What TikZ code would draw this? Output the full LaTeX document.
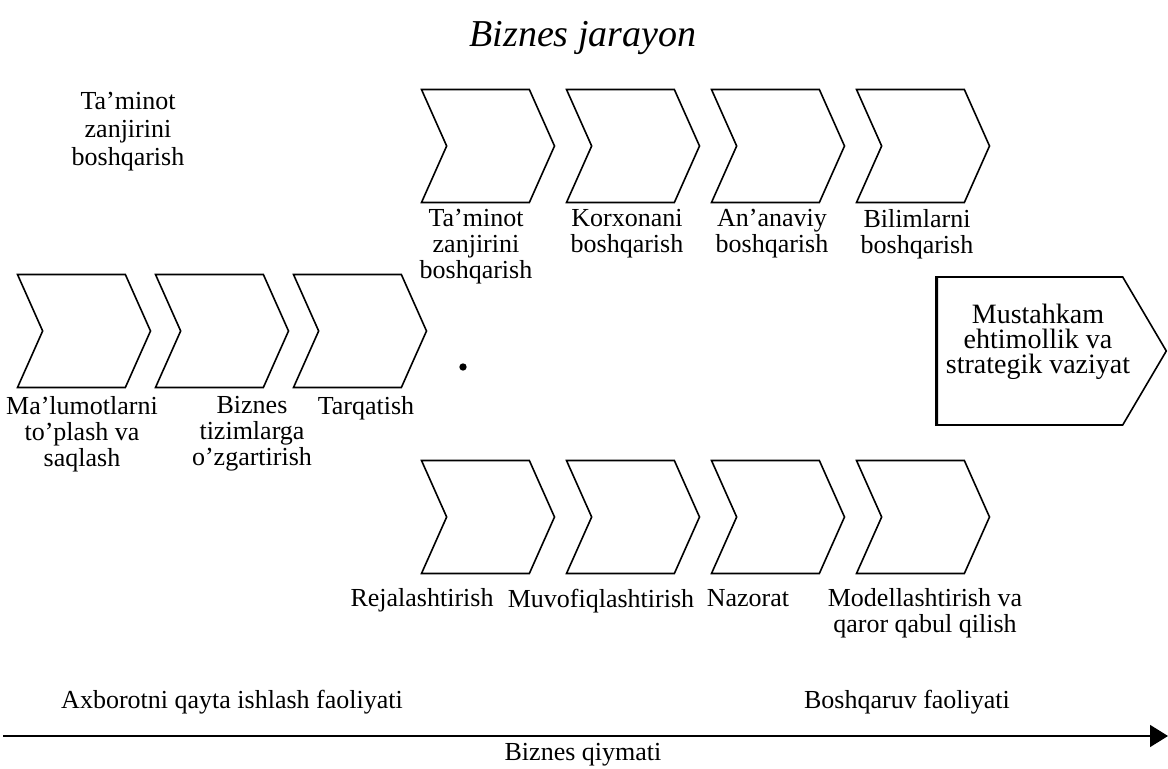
\documentclass[tikz,border=0pt]{standalone}
\usepackage{fontspec}
\setmainfont{Liberation Serif}
\usetikzlibrary{shapes.symbols,arrows.meta,positioning}

\begin{document}
\begin{tikzpicture}[x=0.5pt,y=-0.5pt,
  chevron/.style={signal,signal from=west,signal to=east,signal pointer angle=132,
                  draw=black,line width=0.8pt,minimum width=66.5pt,minimum height=56.5pt,inner sep=0pt},
  matn/.style={align=center,font=\fontsize{13}{13}\selectfont,inner sep=0pt,
               execute at begin node=\strut}]
  \useasboundingbox (0,0) rectangle (1168,769);

  \node[font=\fontsize{19}{22}\selectfont\itshape] (sarlavha) at (583,38) {Biznes jarayon};
  \node[matn,font=\fontsize{13}{14}\selectfont] (chap) at (128,133) {Ta'minot\\zanjirini\\boshqarish};

  % yuqori qator
  \node[chevron] (T1) at (488,146) {};
  \node[chevron] (T2) at (633,146) {};
  \node[chevron] (T3) at (778,146) {};
  \node[chevron] (T4) at (923,146) {};
  \node[matn,below=3pt of T1,xshift=-6pt] (t1) {Ta'minot\\zanjirini\\boshqarish};
  \node[matn,below=3pt of T2,xshift=-3pt] (t2) {Korxonani\\boshqarish};
  \node[matn,below=3pt of T3,xshift=-3pt] (t3) {An'anaviy\\boshqarish};
  \node[matn,below=3pt of T4,xshift=-3pt] (t4) {Bilimlarni\\boshqarish};

  % o'rta qator
  \node[chevron] (M1) at (84,331) {};
  \node[chevron] (M2) at (222,331) {};
  \node[chevron] (M3) at (360,331) {};
  \node[matn,below=4pt of M1,xshift=-1pt] (m1) {Ma'lumotlarni\\to'plash va\\saqlash};
  \node[matn,below=4pt of M2,xshift=15pt] (m2) {Biznes\\tizimlarga\\o'zgartirish};
  \node[matn,below=4pt of M3,xshift=3pt] (m3) {Tarqatish};
  \node[circle,fill=black,inner sep=1.3pt] (nuqta) at (463,367) {};

  \node[signal,signal to=east,signal pointer angle=119,draw=black,line width=0.8pt,
        minimum width=114.5pt,minimum height=74pt,inner sep=0pt] (S) at (1030,351) {};
  \draw[line width=1.6pt] (S.west |- S.north) -- (S.west |- S.south);
  \node[matn,font=\fontsize{14}{12.5}\selectfont,xshift=4pt,yshift=4pt] (s) at (S.center)
        {Mustahkam\\ehtimollik va\\strategik vaziyat};

  % pastki qator
  \node[chevron] (P1) at (488,517) {};
  \node[chevron] (P2) at (633,517) {};
  \node[chevron] (P3) at (778,517) {};
  \node[chevron] (P4) at (923,517) {};
  \node[matn,below=7pt of P1,xshift=-33pt] (p1) {Rejalashtirish};
  \node[matn,below=7pt of P2,xshift=-16pt] (p2) {Muvofiqlashtirish};
  \node[matn,below=7pt of P3,xshift=-15pt] (p3) {Nazorat};
  \node[matn,below=7pt of P4,xshift=1pt] (p4) {Modellashtirish va\\qaror qabul qilish};

  % qiymat o'qi
  \node[matn] (axb) at (232,703) {Axborotni qayta ishlash faoliyati};
  \node[matn] (bosh) at (907,703) {Boshqaruv faoliyati};
  \coordinate (o0) at (3,736);
  \coordinate (o1) at (1168,736);
  \draw[-{Triangle[length=9pt,width=11pt]},line width=0.8pt] (o0) -- (o1);
  \node[matn] (qiymat) at (583,755) {Biznes qiymati};
\end{tikzpicture}
\end{document}
